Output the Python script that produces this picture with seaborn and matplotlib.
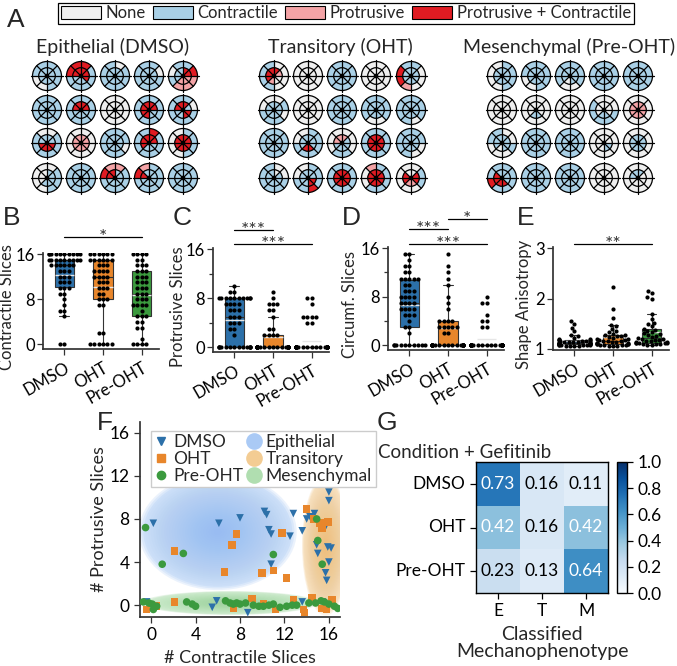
import warnings
import matplotlib
matplotlib.use("Agg")
import matplotlib.pyplot as plt
import matplotlib.transforms as mtrans
from matplotlib.patches import Wedge, Circle, Ellipse, Patch
from matplotlib.lines import Line2D
import numpy as np
import pandas as pd
import seaborn as sns

warnings.filterwarnings("ignore")

# ---------------- data ----------------
conditions = ["DMSO", "OHT", "Pre-OHT"]
box_colors = ["#2c70a9", "#e8862b", "#3b9a3e"]

# panel A: slice states per glyph (8 sectors from east, counter-clockwise)
# 0 none, 1 contractile, 2 protrusive, 3 protrusive + contractile
state_names = ["None", "Contractile", "Protrusive", "Protrusive + Contractile"]
state_colors = ["#efefef", "#a9d0e6", "#f4a3a6", "#e01b22"]

epi_outer = ["11110011", "13331111", "10111111", "01111111", "31101222",
             "11111111", "11111111", "00000000", "11111111", "01111111",
             "10011111", "00000000", "11111110", "13111111", "11000011",
             "10000011", "11111111", "12231111", "11231111", "11111111"]
epi_inner = ["11111111", "33331113", "11111111", "11111111", "33111222",
             "11111111", "33331111", "00000000", "33333311", "13331133",
             "11113333", "22222222", "11111111", "33333111", "33333333",
             "11000111", "11111111", "11331111", "11131111", "11111111"]

tra_outer = ["00111100", "00000000", "11111111", "00000000", "01133200",
             "10001110", "00000000", "11111111", "11111001", "11111101",
             "11111111", "11001111", "00000110", "11111111", "11111100",
             "00111111", "11001131", "11111111", "11200111", "10000001"]
tra_inner = ["23333200", "00000000", "11111111", "00000000", "11111111",
             "11111111", "00000000", "11111111", "11111111", "11111111",
             "11111111", "11111331", "12221111", "33333333", "11111111",
             "10111111", "11111133", "33333333", "33333333", "30033223"]

mes_outer = ["11000011", "11110011", "11111001", "11111111", "11111111",
             "00000000", "00000000", "00000000", "00011111", "00000000",
             "00110001", "11111111", "11111111", "00000000", "00000000",
             "11113111", "11111111", "11111111", "00000000", "00000000"]
mes_inner = ["11111111", "11111111", "11111011", "11111111", "11111111",
             "00000000", "00000110", "00000000", "00000110", "22222222",
             "11111011", "11111111", "11111111", "00000011", "11111111",
             "11133331", "11111111", "11111111", "00000000", "01110000"]

group_titles = ["Epithelial (DMSO)", "Transitory (OHT)", "Mesenchymal (Pre-OHT)"]

# panel B-E
contr_dmso = [0, 0, 5, 6, 6, 7, 8, 9, 9, 10, 10, 10, 11, 11, 11, 12, 12, 12, 13, 13, 13,
              14, 14, 14, 14, 14, 14, 15, 15, 15, 15, 15, 15, 15, 15, 15,
              16, 16, 16, 16, 16, 16, 16, 16, 16, 16]
contr_oht = [0, 0, 0, 0, 0, 0, 2, 2, 7, 7, 8, 8, 8, 9, 9, 10, 10, 10, 11, 11, 11,
             12, 12, 12, 12, 13, 13, 13, 13, 14, 14, 14, 15, 15, 15, 15, 15, 15,
             16, 16, 16, 16, 16, 16]
contr_pre = [0, 0, 0, 0, 1, 3, 3, 4, 4, 5, 5, 5, 6, 7, 7, 7, 7, 8, 8, 8, 9, 9, 9,
             10, 10, 10, 11, 11, 11, 12, 12, 12, 13, 13, 13, 14, 14, 14, 15, 15,
             16, 16, 16, 16]

prot_dmso = [0, 0, 0, 0, 0, 0, 0, 0, 0, 0, 0, 0, 0, 0, 2, 3, 3, 4, 4, 4, 5, 5, 5,
             6, 6, 6, 7, 7, 7, 7, 8, 8, 8, 8, 8, 8, 8, 8, 8, 8, 9, 9, 10]
prot_oht = [0, 0, 0, 0, 0, 0, 0, 0, 0, 0, 0, 0, 0, 0, 0, 0, 0, 0, 0, 0, 0, 0, 0, 0,
            0, 0, 0, 0, 2, 2, 2, 2, 3, 3, 5, 6, 6, 7, 7, 7, 8, 9]
prot_pre = [0, 0, 0, 0, 0, 0, 0, 0, 0, 0, 0, 0, 0, 0, 0, 0, 0, 0, 0, 0, 0, 0, 0, 0,
            0, 0, 0, 0, 0, 0, 0, 0, 0, 0, 0, 0, 0, 0, 0, 0, 4, 4, 5, 5, 5, 5, 7, 8, 8]

circ_dmso = [0, 0, 0, 0, 0, 0, 0, 0, 0, 0, 2, 3, 3, 4, 5, 5, 5, 6, 6, 6, 6, 7, 7, 7, 7,
             8, 8, 8, 8, 9, 9, 9, 10, 10, 11, 11, 11, 11, 11, 12, 12, 13, 13, 14, 15, 15]
circ_oht = [0, 0, 0, 0, 0, 0, 0, 0, 0, 0, 0, 0, 0, 0, 0, 0, 0, 0, 0, 0, 0, 0,
            2, 2, 3, 3, 3, 3, 3, 4, 4, 4, 4, 6, 7, 8, 10, 11, 12, 13, 15]
circ_pre = [0, 0, 0, 0, 0, 0, 0, 0, 0, 0, 0, 0, 0, 0, 0, 0, 0, 0, 0, 0, 0, 0, 0, 0,
            0, 0, 0, 0, 0, 0, 3, 3, 4, 4, 5, 7, 7, 8]

aniso_dmso = [1.05, 1.05, 1.06, 1.06, 1.07, 1.07, 1.07, 1.08, 1.08, 1.08, 1.09, 1.09, 1.09,
              1.10, 1.10, 1.10, 1.11, 1.11, 1.11, 1.12, 1.12, 1.12, 1.13, 1.13, 1.14, 1.14,
              1.15, 1.15, 1.16, 1.16, 1.17, 1.18, 1.18, 1.19, 1.20, 1.22, 1.25, 1.28, 1.35,
              1.42, 1.50, 1.55]
aniso_oht = [1.05, 1.05, 1.06, 1.07, 1.07, 1.08, 1.08, 1.09, 1.09, 1.10, 1.10, 1.11, 1.12,
             1.12, 1.13, 1.14, 1.15, 1.15, 1.16, 1.17, 1.18, 1.19, 1.20, 1.21, 1.23, 1.25,
             1.26, 1.27, 1.28, 1.30, 1.33, 1.36, 1.40, 1.45, 1.48, 1.62, 1.80, 2.22]
aniso_pre = [1.07, 1.08, 1.09, 1.10, 1.10, 1.11, 1.11, 1.12, 1.12, 1.12, 1.13, 1.14, 1.15,
             1.16, 1.17, 1.18, 1.19, 1.20, 1.22, 1.24, 1.25, 1.27, 1.29, 1.31, 1.34, 1.36,
             1.38, 1.40, 1.45, 1.50, 1.52, 1.60, 1.70, 2.00, 2.02, 2.10, 2.15]

# panel F
dmso_x = [0.2, 6.1, 8.0, 10.2, 10.4, 10.6, 10.8, 12.5, 12.8, 13.6, 14.0, 14.3, 14.7, 14.9, 15.0,
          16.0, 16.0, 15.7, 15.9, 16.2, 16.0, 15.7, 15.8, 10.8, 5.5, 5.9, 8.7, 13.6, 15.4, -0.4]
dmso_y = [7.6, 7.6, 8.1, 8.7, 8.4, 7.0, 6.6, 6.4, 8.5, 6.9, 8.0, 8.2, 8.5, 5.6, 4.8,
          10.5, 9.7, 7.3, 5.4, 5.3, 4.0, 3.0, 2.3, 3.8, -0.2, 0.4, -0.7, 0.3, 0.3, 0.3]
oht_x = [14.0, 14.6, 15.2, 15.4, 15.9, 2.1, 7.3, 7.7, 11.8, 6.6, 10.0, 11.0, 12.2, 2.1, -0.4,
         0.5, 9.1, 10.1, 11.2, 12.8, 13.7, 14.5, 15.4, 15.8, 16.3, 7.4, 13.8]
oht_y = [8.9, 8.0, 7.6, 7.1, 7.7, 5.0, 5.6, 6.6, 6.7, 3.1, 3.0, 3.2, 2.5, 0.3, -0.4,
         -0.1, 0.6, 0.1, -0.4, 0.5, -0.4, 0.7, -0.3, -0.4, 0.5, -0.3, -0.7]
pre_x = [-0.5, 1.0, 2.9, 11.0, 14.9, 15.0, 15.4, -0.2, 0.1, 0.2, 0.5, -0.7, 3.2, 3.7, 4.0,
         6.7, 7.1, 7.4, 7.7, 8.0, 8.5, 9.2, 9.7, 10.1, 10.6, 11.0, 11.6, 12.2, 12.7, 13.1,
         14.2, 14.8, 15.3, 15.6, 16.0, 16.5, 16.8]
pre_y = [7.2, 3.8, 4.8, 4.7, 8.0, 6.0, 3.8, 0.2, 0.1, -0.4, -0.1, 0.3, 0.3, 0.1, -0.1,
         0.4, 0.2, 0.1, 0.2, 0.1, 0.2, 0.0, -0.1, -0.1, 0.0, 0.1, -0.2, -0.1, 0.0, 0.0,
         0.2, 0.2, 0.4, 0.3, 0.1, -0.1, -0.3]
region_names = ["Epithelial", "Transitory", "Mesenchymal"]
region_colors = ["#86b4f2", "#eeb766", "#8fd18f"]

# panel G
gef_rows = ["DMSO", "OHT", "Pre-OHT"]
gef_cols = ["E", "T", "M"]
gef_dmso = [0.73, 0.16, 0.11]
gef_oht = [0.42, 0.16, 0.42]
gef_pre = [0.23, 0.13, 0.64]

# ---------------- figure ----------------
sns.set_theme(style="ticks")
plt.rcParams["font.family"] = ["Lato", "DejaVu Sans"]
plt.rcParams["axes.edgecolor"] = "#333333"
plt.rcParams["xtick.color"] = "#333333"
plt.rcParams["ytick.color"] = "#333333"
plt.rcParams["xtick.labelcolor"] = "black"
plt.rcParams["ytick.labelcolor"] = "black"

W, H = 677, 666
fig = plt.figure(figsize=(W / 100, H / 100), dpi=100)


def px_ax(x0, y0, x1, y1):
    return fig.add_axes([x0 / W, 1 - y1 / H, (x1 - x0) / W, (y1 - y0) / H])


def fig_text(x, y, s, **kw):
    fig.text(x / W, 1 - y / H, s, **kw)


# panel letters
for lab, x, y in [("A", 7, 27), ("B", 3, 225), ("C", 173, 225), ("D", 342, 225),
                  ("E", 517, 225), ("F", 97, 430), ("G", 377, 430)]:
    fig_text(x, y, lab, fontsize=19, family="Liberation Sans", va="baseline")

# ---- A ----
axa = px_ax(0, 0, W, 200)
axa.set_xlim(0, W)
axa.set_ylim(0, 200)
axa.axis("off")


def draw_glyph(ax, cx, cy, outer, inner, r=14.5, ri=8.3):
    for k in range(8):
        ax.add_patch(Wedge((cx, cy), r, 45 * k, 45 * (k + 1), width=r - ri,
                           facecolor=state_colors[int(outer[k])], edgecolor="none"))
        ax.add_patch(Wedge((cx, cy), ri, 45 * k, 45 * (k + 1),
                           facecolor=state_colors[int(inner[k])], edgecolor="none"))
    ax.add_patch(Circle((cx, cy), r, fill=False, ec="black", lw=0.9))
    ax.add_patch(Circle((cx, cy), ri, fill=False, ec="black", lw=0.9))
    e = r * 1.12
    ax.plot([cx - e, cx + e], [cy, cy], color="black", lw=0.9)
    ax.plot([cx, cx], [cy - e, cy + e], color="black", lw=0.9)
    d = r * 0.707
    ax.plot([cx - d, cx + d], [cy - d, cy + d], color="black", lw=0.9)
    ax.plot([cx - d, cx + d], [cy + d, cy - d], color="black", lw=0.9)
    ax.add_patch(Circle((cx, cy), 1.6, color="black"))


col_x = [[47, 81, 115, 149, 183], [274, 308, 342, 376, 411], [502, 536, 570, 604, 638]]
row_y = [76, 110, 143, 178]
groups = [(epi_outer, epi_inner), (tra_outer, tra_inner), (mes_outer, mes_inner)]
title_x = [113, 340, 569]
for g, (outer, inner) in enumerate(groups):
    for i in range(4):
        for j in range(5):
            draw_glyph(axa, col_x[g][j], 200 - row_y[i], outer[5 * i + j], inner[5 * i + j])
    fig_text(title_x[g], 53, group_titles[g], fontsize=14, ha="center", va="baseline")

handles = [Patch(facecolor=c, edgecolor="black", lw=0.8) for c in state_colors]
leg = fig.legend(handles, state_names, loc="center", bbox_to_anchor=(346 / W, 1 - 13.5 / H),
                 ncol=4, fontsize=12, handlelength=2.4, handleheight=0.8, handletextpad=0.3,
                 columnspacing=0.4, borderpad=0.15, fancybox=False, framealpha=1,
                 edgecolor="black")
leg.get_frame().set_linewidth(0.9)


# ---- B-E ----
def sig(ax, x0, x1, y, txt):
    ax.plot([x0, x1], [y, y], color="black", lw=0.9, clip_on=False)
    tr = mtrans.offset_copy(ax.transData, fig=fig, y=-6, units="dots")
    ax.text((x0 + x1) / 2, y, txt, ha="center", va="baseline", fontsize=14,
            color="#333333", transform=tr, clip_on=False)


def box_panel(rect, vals, ylim, yticks, ylabel, label_x, minor=None):
    ax = px_ax(*rect)
    df = pd.DataFrame({"cond": np.repeat(conditions, [len(v) for v in vals]),
                       "val": np.concatenate(vals)})
    sns.boxplot(data=df, x="cond", y="val", hue="cond", palette=box_colors, saturation=1,
                width=0.5, showfliers=False, showmeans=True, meanline=True,
                meanprops=dict(color="#e6e6e6", ls="-", lw=1.0),
                linecolor="#333333", linewidth=0.8, legend=False, ax=ax)
    sns.swarmplot(data=df, x="cond", y="val", color="black", size=3, ax=ax, zorder=3)
    ax.set_xlim(-0.55, 2.45)
    ax.set_ylim(*ylim)
    ax.set_yticks(yticks)
    if minor:
        ax.set_yticks(minor, minor=True)
    ax.set_xticks(range(3))
    ax.set_xticklabels(conditions, rotation=30, ha="right", rotation_mode="anchor")
    ax.set_xlabel("")
    ax.set_ylabel(ylabel, fontsize=12)
    ax.yaxis.set_label_coords((label_x - rect[0]) / (rect[2] - rect[0]), 0.44)
    ax.tick_params(labelsize=12, length=4, width=0.9)
    ax.tick_params(axis="y", pad=2)
    ax.tick_params(axis="y", which="minor", length=3, width=0.9)
    sns.despine(ax=ax)
    return ax


axb = box_panel((43, 253, 159, 349), [contr_dmso, contr_oht, contr_pre], (-0.8, 16.2),
                [0, 8, 16], "Contractile Slices", 15)
sig(axb, 0, 2, 19.0, "*")

axc = box_panel((213, 248, 329, 352), [prot_dmso, prot_oht, prot_pre], (-0.8, 16.2),
                [0, 8, 16], "Protrusive Slices", 186, minor=[4, 12])
sig(axc, 0, 1, 19.1, "***")
sig(axc, 0, 2, 16.8, "***")

axd = box_panel((388, 247, 504, 350), [circ_dmso, circ_oht, circ_pre], (-0.8, 16.2),
                [0, 8, 16], "Circumf. Slices", 358, minor=[4, 12])
sig(axd, 0, 1, 19.1, "***")
sig(axd, 1, 2, 20.8, "*")
sig(axd, 0, 2, 16.7, "***")

axe = box_panel((553, 247, 669, 350), [aniso_dmso, aniso_oht, aniso_pre], (0.98, 3.02),
                [1, 2, 3], "Shape Anisotropy", 532)
sig(axe, 0, 2, 3.08, "**")

# ---- F ----
axf = px_ax(140, 422, 340, 617)


def soft_ellipse(ax, cx, cy, w, h, color):
    for s in [1.06, 1.03, 1.0]:
        ax.add_patch(Ellipse((cx, cy), w * s, h * s, facecolor=color, edgecolor="none",
                             alpha=0.16, zorder=0))
    for s in np.linspace(0.97, 0.05, 27):
        ax.add_patch(Ellipse((cx, cy), w * s, h * s, facecolor=color, edgecolor="none",
                             alpha=0.035, zorder=0))


soft_ellipse(axf, 6.0, 6.8, 13.4, 10.2, region_colors[0])
soft_ellipse(axf, 15.7, 5.5, 4.0, 12.2, region_colors[1])
soft_ellipse(axf, 7.1, 0.2, 15.0, 2.1, region_colors[2])

fdf = pd.DataFrame({
    "x": dmso_x + oht_x + pre_x,
    "y": dmso_y + oht_y + pre_y,
    "cond": ["DMSO"] * len(dmso_x) + ["OHT"] * len(oht_x) + ["Pre-OHT"] * len(pre_x),
})
sns.scatterplot(data=fdf, x="x", y="y", hue="cond", style="cond", palette=box_colors,
                markers={"DMSO": "v", "OHT": "s", "Pre-OHT": "o"}, s=30, linewidth=0,
                legend=False, ax=axf, zorder=3)
axf.set_xlim(-1, 17)
axf.set_ylim(-1.1, 17)
axf.set_xticks([0, 4, 8, 12, 16])
axf.set_yticks([0, 4, 8, 12, 16])
axf.set_xlabel("# Contractile Slices", fontsize=13, labelpad=5)
axf.set_ylabel("# Protrusive Slices", fontsize=13, labelpad=2)
axf.tick_params(labelsize=12.5, length=4, width=0.9)
sns.despine(ax=axf)

fh = [Line2D([], [], ls="", marker=m, color=c, markersize=6)
      for m, c in zip(["v", "s", "o"], box_colors)]
fh += [Line2D([], [], ls="", marker="o", markersize=12, markerfacecolor=c,
              markeredgecolor="none", alpha=0.7) for c in region_colors]
lf = axf.legend(fh, conditions + region_names, ncol=2, loc="upper left",
                bbox_to_anchor=(0.01, 1.0), fontsize=12.5, handlelength=0.8,
                handletextpad=0.3, columnspacing=0.2, labelspacing=0.05, borderpad=0.2,
                fancybox=False, edgecolor="#cccccc", framealpha=1)

# ---- G ----
axg = px_ax(476, 462, 608, 593)
axc_bar = px_ax(617, 462, 627, 593)
gmat = pd.DataFrame([gef_dmso, gef_oht, gef_pre], index=gef_rows, columns=gef_cols)
sns.heatmap(gmat, ax=axg, cbar_ax=axc_bar, cmap="Blues", vmin=0, vmax=1, annot=True,
            fmt=".2f", annot_kws={"fontsize": 12.5})
for t in axg.texts:
    t.set_color("white" if float(t.get_text()) >= 0.4 else "black")
for sp in axg.spines.values():
    sp.set_visible(True)
    sp.set_color("black")
    sp.set_linewidth(1)
axg.tick_params(labelsize=12.5, length=4, width=0.9, colors="black")
axg.set_yticklabels(gef_rows, rotation=0)
axg.set_xticklabels(gef_cols, rotation=0)
axg.set_xlabel("Classified\nMechanophenotype", fontsize=14, labelpad=5, linespacing=0.95)
axg.set_ylabel("")
cb = axg.collections[0].colorbar
cb.outline.set_edgecolor("black")
cb.outline.set_linewidth(1)
cb.set_ticks([0, 0.2, 0.4, 0.6, 0.8, 1.0])
cb.ax.tick_params(labelsize=12.5, length=4, width=0.9, colors="black")
fig_text(378, 458, "Condition + Gefitinib", fontsize=13.5, va="baseline")

fig.savefig("out.png", dpi=100)
